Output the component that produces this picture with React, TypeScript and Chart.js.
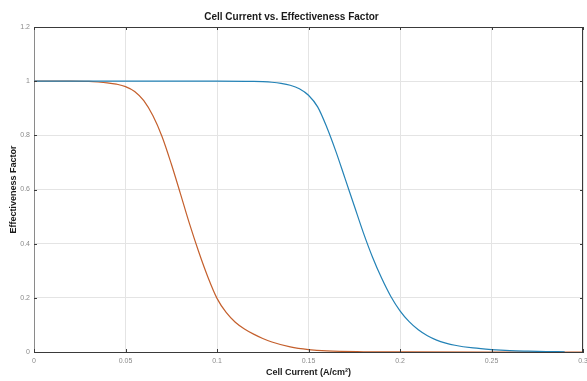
import React, { useEffect, useRef } from "react";
import { Chart, registerables } from "chart.js";

Chart.register(...registerables);

const chartTitle = "Cell Current vs. Effectiveness Factor";
const xTitle = "Cell Current (A/cm\u00B2)";
const yTitle = "Effectiveness Factor";

const xTicks = [0, 0.05, 0.1, 0.15, 0.2, 0.25, 0.3];
const xTickLabels = ["0", "0.05", "0.1", "0.15", "0.2", "0.25", "0.3"];
const yTicks = [0, 0.2, 0.4, 0.6, 0.8, 1, 1.2];
const yTickLabels = ["0", "0.2", "0.4", "0.6", "0.8", "1", "1.2"];

const blueX = [0, 0.05, 0.1, 0.12, 0.125, 0.13, 0.135, 0.14, 0.145, 0.15, 0.155, 0.16, 0.165, 0.17, 0.175, 0.18, 0.185, 0.19, 0.195, 0.2, 0.205, 0.21, 0.215, 0.22, 0.225, 0.23, 0.24, 0.25, 0.26, 0.27, 0.28, 0.29];
const blueY = [1, 1, 1, 0.999, 0.998, 0.996, 0.992, 0.985, 0.972, 0.948, 0.905, 0.83, 0.74, 0.64, 0.54, 0.44, 0.35, 0.272, 0.205, 0.152, 0.112, 0.082, 0.06, 0.044, 0.033, 0.025, 0.015, 0.009, 0.005, 0.003, 0.0015, 0.001];

const orangeX = [0, 0.02, 0.03, 0.035, 0.04, 0.045, 0.05, 0.055, 0.06, 0.065, 0.07, 0.075, 0.08, 0.085, 0.09, 0.095, 0.1, 0.105, 0.11, 0.115, 0.12, 0.125, 0.13, 0.14, 0.15, 0.16, 0.18, 0.2, 0.25, 0.3];
const orangeY = [1, 1, 0.999, 0.997, 0.994, 0.989, 0.98, 0.962, 0.928, 0.872, 0.795, 0.695, 0.585, 0.473, 0.37, 0.277, 0.198, 0.146, 0.11, 0.085, 0.066, 0.05, 0.037, 0.019, 0.009, 0.004, 0.001, 0.0003, 0, 0];

const FONT = "'Liberation Sans', Arial, Helvetica, sans-serif";

const boxPlugin = {
  id: "boxTicks",
  afterDatasetsDraw(chart: any) {
    const { ctx, chartArea, scales } = chart;
    const { left, right, top, bottom } = chartArea;
    ctx.save();
    ctx.strokeStyle = "#3a3a3a";
    ctx.lineWidth = 1;
    ctx.beginPath();
    ctx.moveTo(left, top + 0.5);
    ctx.lineTo(right, top + 0.5);
    ctx.moveTo(right - 0.5, top);
    ctx.lineTo(right - 0.5, bottom);
    ctx.stroke();
    const L = 3;
    ctx.beginPath();
    for (const v of xTicks) {
      const px = Math.round(scales.x.getPixelForValue(v)) + 0.5;
      ctx.moveTo(px, bottom);
      ctx.lineTo(px, bottom - L);
      ctx.moveTo(px, top);
      ctx.lineTo(px, top + L);
    }
    for (const v of yTicks) {
      const py = Math.round(scales.y.getPixelForValue(v)) + 0.5;
      ctx.moveTo(left, py);
      ctx.lineTo(left + L, py);
      ctx.moveTo(right, py);
      ctx.lineTo(right - L, py);
    }
    ctx.stroke();
    ctx.restore();
  },
};

export default function App() {
  const ref = useRef<HTMLCanvasElement | null>(null);
  useEffect(() => {
    if (!ref.current) return;
    const chart = new Chart(ref.current, {
      type: "scatter",
      data: {
        datasets: [
          {
            label: "blue",
            data: blueX.map((x, i) => ({ x, y: blueY[i] })),
            showLine: true,
            borderColor: "#2382b6",
            borderWidth: 1.2,
            pointRadius: 0,
            cubicInterpolationMode: "monotone",
          },
          {
            label: "orange",
            data: orangeX.map((x, i) => ({ x, y: orangeY[i] })),
            showLine: true,
            borderColor: "#c45f2c",
            borderWidth: 1.2,
            pointRadius: 0,
            cubicInterpolationMode: "monotone",
          },
        ],
      },
      options: {
        animation: false,
        responsive: false,
        maintainAspectRatio: false,
        layout: { padding: { left: 0, right: 4, top: 0, bottom: 0 } },
        plugins: {
          legend: { display: false },
          tooltip: { enabled: false },
          title: {
            display: true,
            text: chartTitle,
            color: "#1a1a1a",
            font: { family: FONT, size: 10, weight: "bold" },
            padding: { top: 11, bottom: 4 },
          },
        },
        scales: {
          x: {
            type: "linear",
            min: 0,
            max: 0.3,
            afterBuildTicks: (s: any) => {
              s.ticks = xTicks.map((v) => ({ value: v }));
            },
            afterFit: (s: any) => {
              s.height = 29;
              s.paddingLeft = 0;
              s.paddingRight = 0;
            },
            ticks: {
              color: "#8a8a8a",
              font: { family: FONT, size: 7 },
              padding: 5,
              maxRotation: 0,
              autoSkip: false,
              callback: (v: any) => {
                const i = xTicks.findIndex((t) => Math.abs(t - v) < 1e-9);
                return i >= 0 ? xTickLabels[i] : "";
              },
            },
            grid: { color: "#e4e4e4", drawTicks: false },
            border: { color: "#3a3a3a", width: 1 },
            title: {
              display: true,
              text: xTitle,
              color: "#1a1a1a",
              font: { family: FONT, size: 9, weight: "bold" },
              padding: { top: 0, bottom: 3 },
            },
          },
          y: {
            type: "linear",
            min: 0,
            max: 1.2,
            afterBuildTicks: (s: any) => {
              s.ticks = yTicks.map((v) => ({ value: v }));
            },
            afterFit: (s: any) => {
              s.width = 34;
              s.paddingTop = 0;
              s.paddingBottom = 0;
            },
            ticks: {
              color: "#8a8a8a",
              font: { family: FONT, size: 7 },
              padding: 4,
              autoSkip: false,
              callback: (v: any) => {
                const i = yTicks.findIndex((t) => Math.abs(t - v) < 1e-9);
                return i >= 0 ? yTickLabels[i] : "";
              },
            },
            grid: { color: "#e4e4e4", drawTicks: false },
            border: { color: "#8a8a8a", width: 1 },
            title: {
              display: true,
              text: yTitle,
              color: "#1a1a1a",
              font: { family: FONT, size: 9, weight: "bold" },
              padding: { top: 8, bottom: 0 },
            },
          },
        },
      },
      plugins: [boxPlugin],
    } as any);
    return () => chart.destroy();
  }, []);
  return (
    <div style={{ position: "fixed", left: 0, top: 0, width: 587, height: 381, background: "#fff" }}>
      <canvas ref={ref} width={587} height={381} style={{ width: 587, height: 381 }} />
    </div>
  );
}
